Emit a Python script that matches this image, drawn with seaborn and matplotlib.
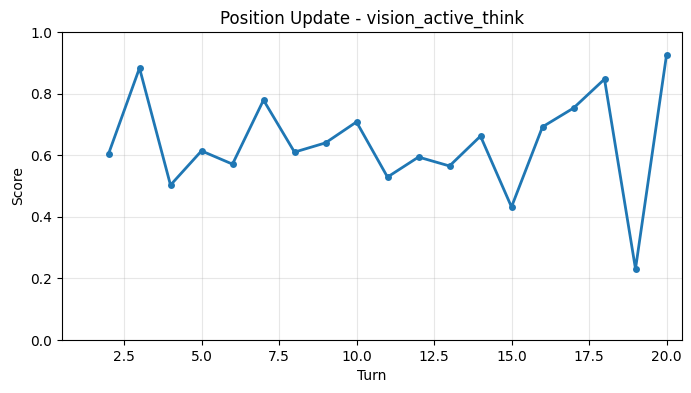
import matplotlib
matplotlib.use("Agg")
import matplotlib.pyplot as plt
import seaborn as sns
import pandas as pd

turns = list(range(2, 21))
scores = [0.604, 0.883, 0.503, 0.614, 0.571, 0.779, 0.610, 0.640, 0.708, 0.529,
          0.594, 0.565, 0.662, 0.432, 0.692, 0.753, 0.847, 0.231, 0.925]

df = pd.DataFrame({"Turn": turns, "Score": scores})

fig = plt.figure(figsize=(6.91, 3.93), dpi=100)
ax = fig.add_axes([62/691, 1 - 340/393, (682-62)/691, (340-32)/393])
sns.lineplot(data=df, x="Turn", y="Score", ax=ax, color="#1f77b4", linewidth=2,
             marker="o", markersize=5, markeredgewidth=0)
ax.set_xlim(0.5, 20.5)
ax.set_ylim(0, 1)
ax.grid(True, alpha=0.3)
ax.set_title("Position Update - vision_active_think")
ax.set_xlabel("Turn")
ax.set_ylabel("Score")
fig.savefig("out.png", dpi=100)
